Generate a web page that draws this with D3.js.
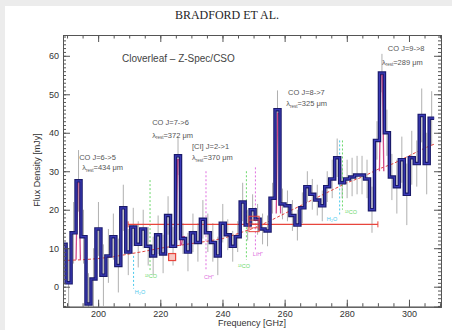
<!DOCTYPE html>
<html>
<head>
<meta charset="utf-8">
<script src="https://cdn.jsdelivr.net/npm/d3@7"></script>
<style>
body { margin: 0; background: #ececec; }
svg { display: block; font-family: "Liberation Sans", Arial, sans-serif; }
</style>
</head>
<body>
<svg id="chart" width="452" height="330"></svg>
<script>
// Z-Spec channels (GHz) and flux density (mJy)
const freqs = [188.9, 190.5, 192.1, 193.7, 195.3, 196.9, 198.5, 200.1, 201.7, 203.3,
  204.9, 206.5, 208.1, 209.7, 211.3, 212.9, 214.5, 216.1, 217.7, 219.3,
  220.9, 222.5, 224.1, 225.7, 227.3, 228.9, 230.5, 232.1, 233.7, 235.3,
  236.9, 238.5, 240.1, 241.7, 243.3, 244.9, 246.5, 248.1, 249.7, 251.3,
  252.9, 254.5, 256.1, 257.7, 259.3, 260.9, 262.5, 264.1, 265.7, 267.3,
  268.9, 270.5, 272.1, 273.7, 275.3, 276.9, 278.5, 280.1, 281.7, 283.3,
  284.9, 286.5, 288.1, 289.7, 291.3, 292.9, 294.5, 296.1, 297.7, 299.3,
  300.9, 302.5, 304.1, 305.7, 307.3];
const flux = [11, 1, 14, 27.5, 13, -4.5, 2, 15, 3, 8,
  13, 5.5, 20.5, 9, 15.5, 11, 15, 10.5, 8, 13.5,
  8.5, 18.5, 10.5, 34, 12.5, 9, 14, 11.5, 17.5, 14,
  11.5, 8, 16.5, 13.5, 10.5, 13, 22, 16, 20, 17.5,
  15, 14.5, 23, 46, 21.5, 21, 18.5, 16, 20.5, 26,
  24, 22.5, 21, 26, 28, 33.5, 27, 28, 28.5, 29,
  29, 28, 20, 38, 55.5, 40, 28.5, 26, 33, 24,
  33.5, 32, 44.5, 32, 43.8];
const fluxErr = [8, 9, 8, 8, 7, 8, 8, 7, 8, 7,
  6, 7, 6, 6, 5, 6, 5, 5, 5, 5,
  5, 5, 5, 5, 4, 5, 5, 5, 5, 5,
  5, 5, 5, 4, 4, 4, 5, 4, 4, 4,
  4, 4, 4, 5, 4, 4, 4, 4, 4, 4,
  4, 4, 4, 4, 5, 5, 4, 5, 5, 5,
  5, 5, 6, 5, 5, 6, 6, 7, 6, 8,
  7, 6, 7, 8, 7];

// continuum model (red dashed)
const contFreq = [188.7, 195, 200, 205, 210, 215, 220, 225, 230, 235, 240, 245, 250,
  255, 260, 265, 270, 275, 280, 285, 290, 295, 300, 305, 308];
const contFlux = [6.8, 7.0, 7.3, 7.8, 8.5, 9.2, 10, 10.6, 11.2, 11.8, 12.5, 13.8, 15.2,
  17, 19, 21, 23, 25, 27, 28.5, 30.5, 32, 34, 36, 37];

// line fits
const lineFreq = [193.6, 225.8, 227.5, 258.0, 291.2];
const linePeak = [27, 33, 13, 45, 55];
const lineBase = [7.0, 10.6, 10.8, 19, 30];

// line annotations
const lineNames = ["CO J=6->5", "CO J=7->6", "[CI] J=2->1", "CO J=8->7", "CO J=9->8"];
const lineLambda = ["434", "372", "370", "325", "289"];

// other species markers
const speciesNames = ["H\u2082O", "\u00b9\u00b3CO", "CH\u207a", "\u00b9\u00b3CO", "LiH\u207a", "H\u2082O", "\u00b9\u00b3CO"];
const speciesFreq = [211.4, 216.7, 234.7, 247.7, 250.6, 277.7, 278.6];

// continuum estimate (red bar) and markers
const barRange = [209.65, 290.0];
const barFlux = 16.2;

const xTicks = [200, 220, 240, 260, 280, 300];
const yTicks = [0, 10, 20, 30, 40, 50, 60];

// ---- layout ----
const x = d3.scaleLinear().domain([188.7, 310.3]).range([63, 441]);
const y = d3.scaleLinear().domain([-5.2, 65.4]).range([306.7, 35]);

const svg = d3.select("#chart");
svg.append("rect").attr("x", 5).attr("y", 6).attr("width", 447).attr("height", 324).attr("fill", "#fff");

svg.append("text").attr("x", 227).attr("y", 19).attr("text-anchor", "middle")
  .attr("font-family", "Liberation Serif, Times New Roman, serif").attr("font-size", 12)
  .attr("fill", "#1e1e1e").text("BRADFORD ET AL.");

svg.append("clipPath").attr("id", "clip").append("rect")
  .attr("x", 63).attr("y", 35).attr("width", 378).attr("height", 271.7);
const g = svg.append("g").attr("clip-path", "url(#clip)");

// error bars
g.selectAll("line.err").data(freqs).join("line").attr("class", "err")
  .attr("x1", d => x(d)).attr("x2", d => x(d))
  .attr("y1", (d, i) => y(flux[i] - fluxErr[i])).attr("y2", (d, i) => y(flux[i] + fluxErr[i]))
  .attr("stroke", "#b0b0b0").attr("stroke-width", 1);

// continuum model
g.append("path").datum(contFreq)
  .attr("d", d3.line().x(d => x(d)).y((d, i) => y(contFlux[i])))
  .attr("fill", "none").attr("stroke", "#e0403a").attr("stroke-width", 1)
  .attr("stroke-dasharray", "3,2");

// species markers
const spTop = [8, 27.7, 30, 30, 31, 38, 38];
const spBot = [-0.5, 4.3, 4, 7, 9.5, 18.6, 20];
const spLabV = [-2.0, 2.2, 2.0, 4.9, 8.0, 17.0, 18.9];
const spLabX = [140, 151, 209, 244, 258, 332, 351];
const spColor = ["#48c8ec", "#6cd86c", "#e070e0", "#6cd86c", "#e070e0", "#48c8ec", "#6cd86c"];
g.selectAll("line.sp").data(speciesFreq).join("line").attr("class", "sp")
  .attr("x1", d => x(d)).attr("x2", d => x(d))
  .attr("y1", (d, i) => y(spTop[i])).attr("y2", (d, i) => y(spBot[i]))
  .attr("stroke", (d, i) => spColor[i]).attr("stroke-width", 1).attr("stroke-dasharray", "2,2");
svg.selectAll("text.sp").data(speciesNames).join("text").attr("class", "sp")
  .attr("x", (d, i) => spLabX[i]).attr("y", (d, i) => y(spLabV[i]))
  .attr("text-anchor", "middle").attr("font-size", 5.5)
  .attr("fill", (d, i) => spColor[i]).text(d => d);

// red horizontal bar
const red = "#e8453c";
g.append("line").attr("x1", x(barRange[0])).attr("x2", x(barRange[1]))
  .attr("y1", y(barFlux)).attr("y2", y(barFlux)).attr("stroke", red).attr("stroke-width", 1.2);
barRange.forEach(f => g.append("line").attr("x1", x(f)).attr("x2", x(f))
  .attr("y1", y(barFlux) - 3).attr("y2", y(barFlux) + 3).attr("stroke", red).attr("stroke-width", 1));

// line fits
lineFreq.forEach((f, i) => {
  const pts = [[f - 0.7, lineBase[i]], [f - 0.25, linePeak[i]], [f + 0.25, linePeak[i]], [f + 0.7, lineBase[i]]];
  g.append("path").datum(pts)
    .attr("d", d3.line().x(d => x(d[0])).y(d => y(d[1])))
    .attr("fill", "none").attr("stroke", "#d04888").attr("stroke-width", 1.3);
});

// spectrum (step histogram)
const pts = freqs.map((f, i) => ({f: f, v: flux[i]}));
const half0 = (freqs[1] - freqs[0]) / 2, half1 = (freqs[freqs.length - 1] - freqs[freqs.length - 2]) / 2;
pts.unshift({f: freqs[0] - half0, v: flux[0]});
pts.push({f: freqs[freqs.length - 1] + half1, v: flux[flux.length - 1]});
const step = d3.line().x(d => x(d.f)).y(d => y(d.v)).curve(d3.curveStep);
g.append("path").datum(pts).attr("d", step).attr("fill", "none")
  .attr("stroke", "#1a1a6a").attr("stroke-width", 3.5).attr("stroke-linejoin", "miter");
g.append("path").datum(pts).attr("d", step).attr("fill", "none")
  .attr("stroke", "#3a3ab8").attr("stroke-width", 1.2);

// red square and red box
g.append("rect").attr("x", x(223.8) - 3.5).attr("y", y(7.7) - 3.5).attr("width", 7).attr("height", 7)
  .attr("fill", "#f7c8c4").attr("stroke", red).attr("stroke-width", 1.2);
g.append("rect").attr("x", x(248.5)).attr("y", y(18.3)).attr("width", x(251.8) - x(248.5))
  .attr("height", y(14.3) - y(18.3)).attr("fill", "none").attr("stroke", red).attr("stroke-width", 1);
[15.3, 16.3, 17.3].forEach(v => g.append("line").attr("x1", x(248.5)).attr("x2", x(251.8))
  .attr("y1", y(v)).attr("y2", y(v)).attr("stroke", red).attr("stroke-width", 0.8));

// line labels
const labF = [193.9, 217.4, 230.2, 261.1, 293.2];
const labV = [33.0, 42.0, 35.9, 49.9, 61.35];
const lamF = [194.9, 217.4, 230.2, 260.5, 291.3];
const lamV = [30.2, 38.75, 32.9, 46.9, 57.7];
lineNames.forEach((n, i) => {
  svg.append("text").attr("x", x(labF[i])).attr("y", y(labV[i]))
    .attr("font-size", 7.5).attr("fill", "#555").text(n);
  const t = svg.append("text").attr("x", x(lamF[i])).attr("y", y(lamV[i]))
    .attr("font-size", 7.5).attr("fill", "#555");
  t.append("tspan").text("\u03bb");
  t.append("tspan").attr("font-size", 4.5).attr("dy", 1.5).text("rest");
  t.append("tspan").attr("dy", -1.5).text("=" + lineLambda[i] + " \u03bcm");
});

svg.append("text").attr("x", 122).attr("y", 62).attr("font-size", 10).attr("fill", "#444")
  .text("Cloverleaf \u2013 Z-Spec/CSO");

// axes (ticks inward on all sides)
const axCol = "#555";
function style(sel) {
  sel.selectAll("path.domain").attr("stroke", axCol);
  sel.selectAll(".tick line").attr("stroke", axCol);
  sel.selectAll("text").attr("fill", "#333").attr("font-size", 9)
    .attr("font-family", "Liberation Sans, Arial, sans-serif");
}
const xMinor = d3.range(190, 311, 5);
const yMinor = d3.range(-5, 66, 1);
svg.append("g").attr("transform", "translate(0,306.7)")
  .call(d3.axisBottom(x).tickValues(xMinor).tickSize(-3.5).tickFormat("")).call(style);
svg.append("g").attr("transform", "translate(0,306.7)")
  .call(d3.axisBottom(x).tickValues(xTicks).tickSize(-7).tickPadding(4).tickFormat(d3.format("d"))).call(style);
svg.append("g").attr("transform", "translate(0,35)")
  .call(d3.axisTop(x).tickValues(xMinor).tickSize(-3.5).tickFormat("")).call(style);
svg.append("g").attr("transform", "translate(0,35)")
  .call(d3.axisTop(x).tickValues(xTicks).tickSize(-7).tickFormat("")).call(style);
svg.append("g").attr("transform", "translate(63,0)")
  .call(d3.axisLeft(y).tickValues(yMinor).tickSize(-3).tickFormat("")).call(style);
svg.append("g").attr("transform", "translate(63,0)")
  .call(d3.axisLeft(y).tickValues(yTicks).tickSize(-7).tickPadding(4).tickFormat(d3.format("d"))).call(style);
svg.append("g").attr("transform", "translate(441,0)")
  .call(d3.axisRight(y).tickValues(yMinor).tickSize(-3).tickFormat("")).call(style);
svg.append("g").attr("transform", "translate(441,0)")
  .call(d3.axisRight(y).tickValues(yTicks).tickSize(-7).tickFormat("")).call(style);

svg.append("text").attr("x", 252).attr("y", 326).attr("text-anchor", "middle")
  .attr("font-size", 9).attr("fill", "#333").text("Frequency [GHz]");
svg.append("text").attr("transform", "translate(40,170) rotate(-90)").attr("text-anchor", "middle")
  .attr("font-size", 9).attr("fill", "#333").text("Flux Density [mJy]");
</script>
</body>
</html>
